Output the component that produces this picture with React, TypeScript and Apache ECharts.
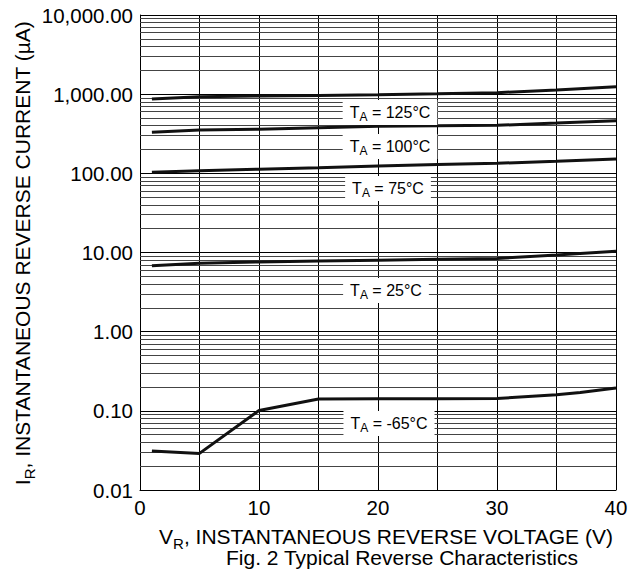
import React, { useEffect, useRef } from "react";
import * as echarts from "echarts";

const FONT = "'Liberation Sans', Arial, sans-serif";

const xTickLabels = ["0", "10", "20", "30", "40"];
const yTickLabels = ["0.01", "0.10", "1.00", "10.00", "100.00", "1,000.00", "10,000.00"];

const vStd = [1, 5, 10, 15, 20, 25, 30, 35, 40];
const i125 = [869, 929, 948, 965, 985, 1010, 1045, 1129, 1243];
const i100 = [330, 352, 360, 377, 392, 398, 404, 432, 463];
const i75 = [103, 108, 113, 118, 124, 129, 134, 142, 152];
const i25 = [6.8, 7.3, 7.6, 7.8, 8.0, 8.2, 8.4, 9.3, 10.4];
const vM65 = [1, 5, 10, 15, 20, 25, 30, 35, 37, 40];
const iM65 = [0.031, 0.029, 0.101, 0.141, 0.142, 0.142, 0.143, 0.16, 0.17, 0.194];

const seriesNames = ["125°C", "100°C", "75°C", "25°C", "-65°C"];
const labelCenters: [number, number][] = [
  [390, 112],
  [390, 146],
  [388, 188],
  [386, 290],
  [389, 423],
];

const decades = [0.01, 0.1, 1, 10, 100, 1000];
const minorMultipliers = [2, 3, 4, 5, 6, 7, 8, 9];

let ctx: CanvasRenderingContext2D | null = null;
function measure(text: string, size: number): number {
  if (!ctx) ctx = document.createElement("canvas").getContext("2d");
  if (!ctx) return text.length * size * 0.55;
  ctx.font = `${size}px ${FONT}`;
  return ctx.measureText(text).width;
}

function subText(main: string, sub: string, rest: string, size: number, subSize: number, drop: number, cx: number, cy: number, withBox: boolean, rotation = 0): any {
  const w1 = measure(main, size);
  const w2 = measure(sub, subSize);
  const w3 = measure(rest, size);
  const total = w1 + w2 + w3;
  const x0 = -total / 2;
  const children: any[] = [];
  if (withBox) {
    children.push({
      type: "rect",
      z: 100,
      shape: { x: x0 - 7, y: -12, width: total + 14, height: 25 },
      style: { fill: "#fff", stroke: null },
    });
  }
  const base = { fill: "#000", fontFamily: FONT, verticalAlign: "middle", align: "left" };
  children.push({ type: "text", z: 101, x: x0, y: 0, style: { ...base, text: main, fontSize: size } });
  children.push({ type: "text", z: 101, x: x0 + w1, y: drop, style: { ...base, text: sub, fontSize: subSize } });
  children.push({ type: "text", z: 101, x: x0 + w1 + w2, y: 0, style: { ...base, text: rest, fontSize: size } });
  return { type: "group", x: cx, y: cy, rotation, z: 100, children };
}

export default function App() {
  const ref = useRef<HTMLDivElement>(null);
  useEffect(() => {
    if (!ref.current) return;
    const chart = echarts.init(ref.current, undefined, { renderer: "svg" });
    const minorLines: any[] = [];
    decades.forEach((d) => minorMultipliers.forEach((m) => minorLines.push({ yAxis: +(d * m).toPrecision(6) })));

    const mk = (xs: number[], ys: number[]) => xs.map((x, i) => [x, ys[i]]);
    const curveData = [mk(vStd, i125), mk(vStd, i100), mk(vStd, i75), mk(vStd, i25), mk(vM65, iM65)];

    const series: any[] = curveData.map((d, i) => ({
      type: "line",
      name: seriesNames[i],
      data: d,
      showSymbol: false,
      symbol: "none",
      lineStyle: { color: "#111", width: 3 },
      z: 5,
    }));
    series.push({
      type: "line",
      data: [],
      silent: true,
      z: 1,
      markLine: {
        silent: true,
        symbol: ["none", "none"],
        label: { show: false },
        lineStyle: { color: "#444", width: 1, type: "solid" },
        data: minorLines,
        animation: false,
      },
    });

    const graphics: any[] = labelCenters.map(([cx, cy], i) =>
      subText("T", "A", " = " + seriesNames[i], 16, 12, 5, cx, cy, true)
    );
    graphics.push(subText("V", "R", ", INSTANTANEOUS REVERSE VOLTAGE (V)", 21, 15, 7, 386, 536, false));
    graphics.push({
      type: "text",
      x: 402,
      y: 557,
      z: 100,
      style: { text: "Fig. 2 Typical Reverse Characteristics", fontSize: 21, fontFamily: FONT, fill: "#000", align: "center", verticalAlign: "middle" },
    });
    graphics.push(subText("I", "R", ", INSTANTANEOUS REVERSE CURRENT (µA)", 21, 15, 7, 22, 253, false, Math.PI / 2));

    chart.setOption({
      animation: false,
      backgroundColor: "#fff",
      grid: { left: 140, top: 15, right: 26, bottom: 83, containLabel: false },
      xAxis: {
        type: "value",
        min: 0,
        max: 40,
        interval: 5,
        axisLine: { show: true, lineStyle: { color: "#000", width: 1 } },
        axisTick: { show: false },
        axisLabel: {
          color: "#000",
          fontSize: 20.5,
          fontFamily: FONT,
          margin: 7,
          formatter: (v: number) => (v % 10 === 0 ? xTickLabels[v / 10] : ""),
        },
        splitLine: { show: true, lineStyle: { color: "#000", width: 1 } },
      },
      yAxis: {
        type: "log",
        logBase: 10,
        min: 0.01,
        max: 10000,
        axisLine: { show: true, lineStyle: { color: "#000", width: 1 } },
        axisTick: { show: false },
        axisLabel: {
          color: "#000",
          fontSize: 20.5,
          fontFamily: FONT,
          margin: 7,
          formatter: (v: number) => {
            const idx = Math.round(Math.log10(v)) + 2;
            return yTickLabels[idx] ?? "";
          },
        },
        splitLine: { show: true, lineStyle: { color: "#000", width: 1 } },
      },
      series,
      graphic: graphics,
    });
    return () => chart.dispose();
  }, []);
  return <div ref={ref} style={{ position: "fixed", left: 0, top: 0, width: 642, height: 573 }} />;
}
